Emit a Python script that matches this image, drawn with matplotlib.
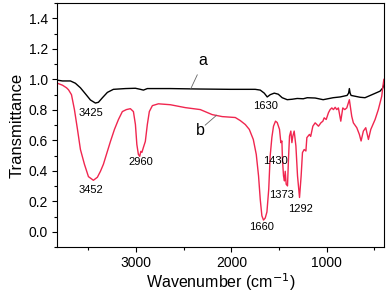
"""FTIR spectra of two samples (a, b) -- transmittance vs wavenumber."""

import matplotlib
matplotlib.use("Agg")
import matplotlib.pyplot as plt
from matplotlib.ticker import MultipleLocator

plt.rcParams["font.family"] = ["Liberation Sans", "DejaVu Sans"]

# curve a (black): wavenumber (cm-1), transmittance
WN_A = [3825, 3772, 3689, 3637, 3584, 3531, 3479, 3427, 3395, 3353, 3301, 3238,
        3112, 3007, 2955, 2923, 2882, 2641, 2326, 2012, 1750, 1697, 1655, 1624,
        1592, 1550, 1508, 1467, 1414, 1362, 1309, 1246, 1204, 1121, 1037, 932,
        859, 786, 770, 762, 754, 744, 650, 598, 524, 440, 410, 400]
T_A = [0.995, 0.99, 0.99, 0.975, 0.945, 0.905, 0.865, 0.845, 0.85, 0.88, 0.915,
       0.935, 0.94, 0.942, 0.935, 0.93, 0.94, 0.94, 0.937, 0.935, 0.935, 0.93,
       0.91, 0.885, 0.9, 0.91, 0.903, 0.88, 0.867, 0.87, 0.875, 0.873, 0.88,
       0.878, 0.867, 0.88, 0.885, 0.895, 0.91, 0.94, 0.91, 0.895, 0.883, 0.88,
       0.9, 0.923, 0.945, 0.965]

# curve b (red)
WN_B = [3825, 3772, 3730, 3709, 3678, 3647, 3615, 3584, 3542, 3500, 3448, 3406,
        3374, 3343, 3311, 3269, 3227, 3185, 3144, 3102, 3060, 3028, 3007, 2992,
        2976, 2962, 2950, 2939, 2923, 2903, 2882, 2861, 2829, 2766, 2641, 2484,
        2326, 2201, 2096, 1959, 1907, 1854, 1812, 1770, 1739, 1715, 1697, 1680,
        1663, 1645, 1627, 1608, 1593, 1575, 1558, 1537, 1519, 1495, 1481, 1470,
        1464, 1453, 1443, 1435, 1425, 1411, 1401, 1390, 1376, 1365, 1355, 1341,
        1323, 1306, 1285, 1268, 1254, 1236, 1218, 1208, 1181, 1168, 1145, 1121,
        1103, 1086, 1061, 1040, 1026, 1005, 981, 964, 946, 929, 911, 894, 877,
        852, 831, 810, 789, 762, 737, 720, 684, 657, 639, 615, 590, 562, 537,
        492, 458, 422, 410, 400]
T_B = [0.975, 0.962, 0.945, 0.932, 0.9, 0.802, 0.672, 0.54, 0.443, 0.362, 0.338,
       0.358, 0.397, 0.443, 0.508, 0.593, 0.672, 0.737, 0.789, 0.802, 0.808,
       0.789, 0.704, 0.573, 0.508, 0.495, 0.528, 0.521, 0.554, 0.593, 0.704,
       0.789, 0.828, 0.84, 0.834, 0.815, 0.802, 0.769, 0.756, 0.75, 0.73, 0.704,
       0.672, 0.606, 0.508, 0.367, 0.212, 0.105, 0.077, 0.09, 0.13, 0.28, 0.497,
       0.62, 0.693, 0.726, 0.717, 0.672, 0.585, 0.596, 0.475, 0.367, 0.334, 0.397,
       0.312, 0.301, 0.475, 0.628, 0.661, 0.585, 0.628, 0.661, 0.563, 0.367,
       0.225, 0.367, 0.52, 0.54, 0.53, 0.618, 0.639, 0.626, 0.693, 0.715, 0.704,
       0.693, 0.715, 0.726, 0.748, 0.737, 0.782, 0.802, 0.813, 0.802, 0.817,
       0.802, 0.813, 0.726, 0.813, 0.802, 0.813, 0.867, 0.758, 0.715, 0.683,
       0.639, 0.596, 0.661, 0.683, 0.606, 0.672, 0.737, 0.802, 0.89, 0.955, 1.0]

# peak labels: text, wavenumber, transmittance (label centre)
PEAKS = [("3425", 3479, 0.78), ("3452", 3479, 0.275), ("2960", 2955, 0.455),
         ("1630", 1645, 0.825), ("1430", 1540, 0.465), ("1373", 1470, 0.24),
         ("1292", 1278, 0.15), ("1660", 1680, 0.03)]

RED = "#f0264f"

fig = plt.figure(figsize=(3.89, 2.96), dpi=100)
ax = fig.add_axes([0.1465, 0.1655, 0.8415, 0.8235])

ax.plot(WN_A, T_A, color="black", lw=1.0)
ax.plot(WN_B, T_B, color=RED, lw=1.0)

for txt, wn, t in PEAKS:
    ax.text(wn, t, txt, ha="center", va="center", fontsize=8)

# curve labels with leader lines
ax.plot([2429, 2358], [0.935, 1.03], color="0.4", lw=0.6)
ax.text(2295, 1.125, "a", ha="center", va="center", fontsize=11.5)
ax.plot([2155, 2275], [0.765, 0.70], color="0.4", lw=0.6)
ax.text(2330, 0.665, "b", ha="center", va="center", fontsize=11.5)

ax.set_xlim(3830, 395)
ax.set_ylim(-0.1, 1.5)
ax.xaxis.set_major_locator(MultipleLocator(1000))
ax.xaxis.set_minor_locator(MultipleLocator(500))
ax.yaxis.set_major_locator(MultipleLocator(0.2))
ax.yaxis.set_minor_locator(MultipleLocator(0.1))
ax.yaxis.set_major_formatter(lambda v, pos: f"{v:.1f}")
ax.tick_params(which="major", direction="out", length=3.5, width=0.8,
               labelsize=10, pad=3)
ax.tick_params(which="minor", direction="out", length=2, width=0.8)
for s in ax.spines.values():
    s.set_linewidth(0.8)

ax.set_xlabel("Wavenumber (cm$^{-1}$)", fontsize=11.5, labelpad=1)
ax.set_ylabel("Transmittance", fontsize=12, labelpad=3)

fig.savefig("out.png", dpi=100)
